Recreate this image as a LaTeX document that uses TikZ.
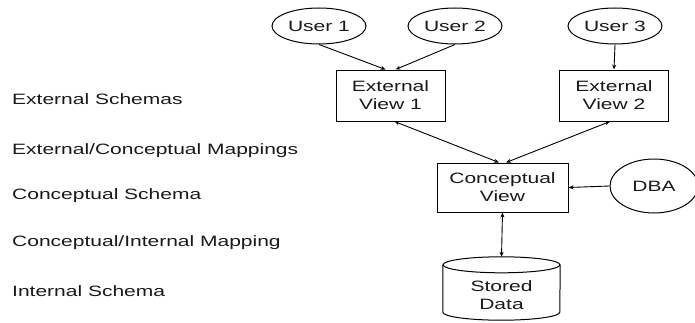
\documentclass[tikz,border=0pt]{standalone}
\usepackage{fontspec}
\setmainfont{Liberation Sans}[FakeStretch=1.4]
\usetikzlibrary{shapes.geometric,arrows.meta,calc}
\begin{document}
\begin{tikzpicture}[x=1pt,y=1pt,
  every node/.style={font=\fontsize{15}{18}\selectfont, text=black!90},
  usr/.style={draw, ellipse, line width=1pt, minimum width=94pt, minimum height=36pt, inner sep=0pt},
  viewbox/.style={draw, rectangle, line width=1pt, align=center, inner sep=0pt},
  lbl/.style={anchor=base west, inner sep=0pt},
  conn/.style={line width=0.9pt, -{Stealth[length=5pt,width=4pt]}},
  bconn/.style={line width=0.9pt, {Stealth[length=5pt,width=4pt]}-{Stealth[length=5pt,width=4pt]}}
]
\useasboundingbox (0,0) rectangle (695,322);

% left labels
\node[lbl] (l1) at (12,218) {External Schemas};
\node[lbl] (l2) at (12,167.5) {External/Conceptual Mappings};
\node[lbl] (l3) at (12,122.5) {Conceptual Schema};
\node[lbl] (l4) at (12,76) {Conceptual/Internal Mapping};
\node[lbl] (l5) at (12,26) {Internal Schema};

% users
\node[usr] (u1) at (319,296) {User 1};
\node[usr] (u2) at (455,296) {User 2};
\node[usr] (u3) at (615,296) {User 3};

% views
\node[viewbox, minimum width=109pt, minimum height=51pt] (ev1) at (390.5,226.5) {External\\View 1};
\node[viewbox, minimum width=109pt, minimum height=51pt] (ev2) at (614,226.5) {External\\View 2};
\node[viewbox, minimum width=131pt, minimum height=49pt] (cv) at (502.5,134.5) {Conceptual\\View};

% DBA
\node[usr, minimum width=88pt, minimum height=54pt] (dba) at (654,136) {DBA};

% stored data cylinder
\node[minimum width=117pt, minimum height=63pt, inner sep=0pt] (stored) at (501.5,33.5) {};
\draw[line width=1pt] ($(stored.north west)+(0,-8)$) -- ($(stored.south west)+(0,8)$)
  arc[start angle=180, end angle=360, x radius=58.5pt, y radius=8pt]
  -- ($(stored.north east)+(0,-8)$);
\draw[line width=1pt] ($(stored.north)+(0,-8)$) ellipse [x radius=58.5pt, y radius=8pt];
\node[align=center, inner sep=0pt] (storedtxt) at (501.5,27) {Stored\\Data};

% connectors
\draw[conn] (u1.south) -- ($(ev1.north)+(-5,0)$);
\draw[conn] (u2.south) -- ($(ev1.north)+(5,0)$);
\draw[conn] (u3.south) -- (ev2.north);
\draw[bconn] ($(ev1.south)+(4,0)$) -- ($(cv.north)+(-3.5,0)$);
\draw[bconn] ($(ev2.south)+(-4,0)$) -- ($(cv.north)+(3.5,0)$);
\draw[conn] (dba.west) -- (cv.east);
\draw[bconn] (stored.north) -- (cv.south);
\end{tikzpicture}
\end{document}
